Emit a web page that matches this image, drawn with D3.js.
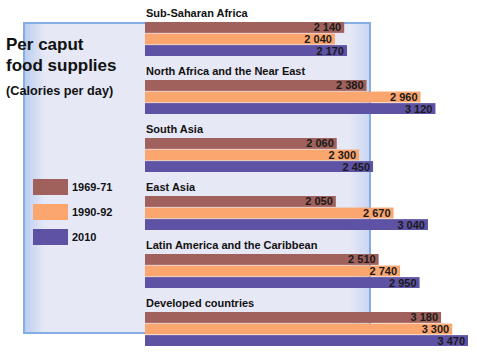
<!DOCTYPE html>
<html>
<head>
<meta charset="utf-8">
<script src="https://cdn.jsdelivr.net/npm/d3@7"></script>
<style>
  body { margin: 0; background: #fff; }
  svg { display: block; font-family: "Liberation Sans", Arial, sans-serif; }
</style>
</head>
<body>
<div id="chart"></div>
<script>
const regions = ["Sub-Saharan Africa", "North Africa and the Near East", "South Asia",
                 "East Asia", "Latin America and the Caribbean", "Developed countries"];
const periods = ["1969-71", "1990-92", "2010"];
const v1969 = [2140, 2380, 2060, 2050, 2510, 3180];
const v1990 = [2040, 2960, 2300, 2670, 2740, 3300];
const v2010 = [2170, 3120, 2450, 3040, 2950, 3470];
const colors = ["#a0615c", "#fba56f", "#5d52a3"];

const width = 477, height = 355;

const rows = [];
regions.forEach((r, i) => {
  [v1969, v1990, v2010].forEach((s, j) => rows.push({ region: r, period: periods[j], value: s[i] }));
});

const fmt = d3.formatLocale({ decimal: ".", thousands: " ", grouping: [3], currency: ["", ""] }).format(",d");

const svg = d3.select("#chart").append("svg")
    .attr("width", width)
    .attr("height", height);

// panel background
const defs = svg.append("defs");
const grad = defs.append("linearGradient").attr("id", "panel").attr("x1", 0).attr("x2", 1);
grad.append("stop").attr("offset", "0%").attr("stop-color", "#b9cdf0");
grad.append("stop").attr("offset", "6%").attr("stop-color", "#e6e8f6");
grad.append("stop").attr("offset", "94%").attr("stop-color", "#e6e8f6");
grad.append("stop").attr("offset", "100%").attr("stop-color", "#c9d6f2");

svg.append("rect")
    .attr("x", 24).attr("y", 23)
    .attr("width", 346).attr("height", 310)
    .attr("fill", "url(#panel)")
    .attr("stroke", "#86aee6")
    .attr("stroke-width", 2);

const x = d3.scaleLinear().domain([0, 3470]).range([145, 468]);
const y0 = d3.scaleBand().domain(regions).range([5, 353]);
const y1 = d3.scaleBand().domain(periods).range([0, 34]).paddingInner(0.06);
const color = d3.scaleOrdinal().domain(periods).range(colors);

// title
svg.append("text").attr("x", 6).attr("y", 50)
    .attr("font-size", 17).attr("font-weight", "bold").attr("fill", "#111")
    .text("Per caput");
svg.append("text").attr("x", 6).attr("y", 71)
    .attr("font-size", 17).attr("font-weight", "bold").attr("fill", "#111")
    .text("food supplies");
svg.append("text").attr("x", 6).attr("y", 95)
    .attr("font-size", 12.7).attr("font-weight", "bold").attr("fill", "#111")
    .text("(Calories per day)");

// region groups
const g = svg.selectAll(".grp")
    .data(regions)
    .enter().append("g")
    .attr("class", "grp")
    .attr("transform", d => `translate(0, ${y0(d)})`);

g.append("text")
    .attr("x", 146).attr("y", 12)
    .attr("font-size", 11).attr("font-weight", "bold").attr("fill", "#111")
    .text(d => d);

const bars = svg.selectAll(".bar")
    .data(rows)
    .enter().append("g")
    .attr("class", "bar")
    .attr("transform", d => `translate(0, ${y0(d.region) + 17 + y1(d.period)})`);

bars.append("rect")
    .attr("x", x(0))
    .attr("width", d => x(d.value) - x(0))
    .attr("height", y1.bandwidth())
    .attr("fill", d => color(d.period));

bars.append("text")
    .attr("x", d => x(d.value) - 3)
    .attr("y", y1.bandwidth() / 2)
    .attr("dy", "0.36em")
    .attr("text-anchor", "end")
    .attr("font-size", 11).attr("font-weight", "bold").attr("fill", "#1a1a1a")
    .text(d => fmt(d.value));

// legend
const leg = svg.selectAll(".leg")
    .data(periods)
    .enter().append("g")
    .attr("class", "leg")
    .attr("transform", (d, i) => `translate(33, ${179 + i * 25})`);

leg.append("rect")
    .attr("width", 35).attr("height", 16)
    .attr("fill", d => color(d));

leg.append("text")
    .attr("x", 39).attr("y", 8).attr("dy", "0.36em")
    .attr("font-size", 11).attr("font-weight", "bold").attr("fill", "#111")
    .text(d => d);
</script>
</body>
</html>
